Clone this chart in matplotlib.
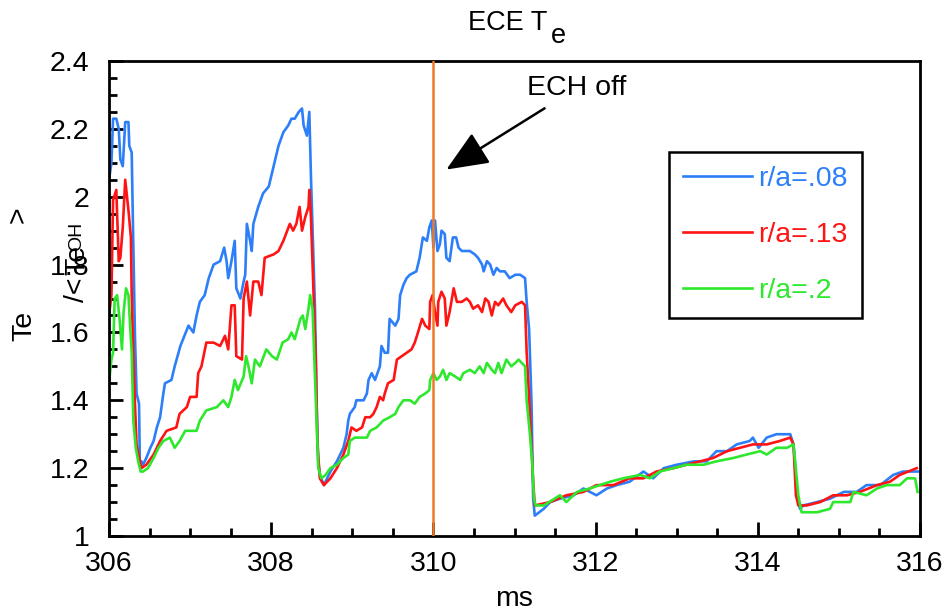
import matplotlib
matplotlib.use("Agg")
import matplotlib.pyplot as plt
from matplotlib.ticker import MultipleLocator

plt.rcParams['font.family'] = ['Liberation Sans', 'DejaVu Sans']

labels = ["r/a=.08", "r/a=.13", "r/a=.2"]
colors = ["#2d7ff9", "#ff1414", "#2ee82e"]

t_b = [306.00, 306.03, 306.05, 306.09, 306.12, 306.14, 306.17, 306.20, 306.24, 306.25, 306.28, 306.29,
       306.32, 306.34, 306.37, 306.38, 306.40, 306.42, 306.46, 306.51, 306.55, 306.59, 306.63, 306.67,
       306.69, 306.77, 306.81, 306.88, 306.98, 307.04, 307.08, 307.12, 307.18, 307.23, 307.29, 307.37,
       307.42, 307.45, 307.47, 307.51, 307.55, 307.57, 307.62, 307.66, 307.68, 307.70, 307.74, 307.76,
       307.78, 307.84, 307.90, 307.97, 308.03, 308.09, 308.15, 308.21, 308.25, 308.29, 308.34, 308.38,
       308.40, 308.44, 308.47, 308.49, 308.54, 308.56, 308.58, 308.60, 308.65,
       308.73, 308.81, 308.89, 308.93, 308.95, 308.97, 309.03, 309.05, 309.14, 309.18, 309.20, 309.24,
       309.28, 309.34, 309.36, 309.40, 309.44, 309.46, 309.53, 309.57, 309.59, 309.63, 309.67, 309.71,
       309.79, 309.83, 309.87, 309.92, 309.95, 309.98, 310.00, 310.02, 310.05, 310.08, 310.10, 310.14,
       310.16, 310.20, 310.24, 310.28, 310.31, 310.35, 310.39, 310.45, 310.51, 310.55, 310.60, 310.62,
       310.66, 310.70, 310.74, 310.78, 310.82, 310.88, 310.94, 311.01, 311.07, 311.13, 311.15, 311.18,
       311.21, 311.23,
       311.25, 311.36, 311.44, 311.56, 311.73, 311.85, 312.01, 312.14, 312.26, 312.42, 312.59, 312.71,
       312.84, 313.00, 313.21, 313.37, 313.49, 313.62, 313.74, 313.90, 313.94, 314.01, 314.11, 314.23,
       314.36, 314.40, 314.44, 314.46, 314.48, 314.52, 314.56, 314.73, 314.89, 315.06, 315.22, 315.34,
       315.51, 315.67, 315.79, 315.98]
te_b = [2.05, 2.10, 2.23, 2.23, 2.20, 2.11, 2.09, 2.22, 2.22, 2.15, 2.13, 1.99,
        1.59, 1.42, 1.39, 1.22, 1.22, 1.21, 1.23, 1.26, 1.28, 1.32, 1.35, 1.42,
        1.45, 1.46, 1.50, 1.56, 1.62, 1.60, 1.65, 1.69, 1.71, 1.76, 1.80, 1.81,
        1.85, 1.81, 1.76, 1.81, 1.87, 1.73, 1.70, 1.75, 1.77, 1.92, 1.87, 1.84,
        1.92, 1.97, 2.01, 2.03, 2.09, 2.15, 2.19, 2.21, 2.23, 2.23, 2.25, 2.26,
        2.21, 2.18, 2.25, 2.06, 1.67, 1.39, 1.22, 1.18, 1.15,
        1.19, 1.22, 1.26, 1.30, 1.34, 1.36, 1.38, 1.40, 1.40, 1.42, 1.46, 1.48,
        1.46, 1.50, 1.56, 1.54, 1.54, 1.64, 1.62, 1.64, 1.71, 1.74, 1.76, 1.77,
        1.78, 1.82, 1.88, 1.87, 1.91, 1.93, 1.85, 1.93, 1.84, 1.86, 1.90, 1.89,
        1.82, 1.81, 1.88, 1.88, 1.85, 1.84, 1.84, 1.84, 1.83, 1.82, 1.80, 1.78,
        1.81, 1.80, 1.77, 1.79, 1.78, 1.78, 1.76, 1.77, 1.77, 1.76, 1.69, 1.61,
        1.39, 1.11,
        1.06, 1.08, 1.10, 1.11, 1.12, 1.14, 1.12, 1.14, 1.15, 1.16, 1.19, 1.17,
        1.20, 1.21, 1.22, 1.22, 1.25, 1.25, 1.27, 1.28, 1.29, 1.26, 1.29, 1.30,
        1.30, 1.30, 1.27, 1.21, 1.12, 1.08, 1.09, 1.10, 1.11, 1.13, 1.13, 1.15,
        1.15, 1.18, 1.19, 1.19]

t_r = [306.00, 306.03, 306.05, 306.09, 306.12, 306.14, 306.17, 306.20, 306.24, 306.27, 306.28, 306.30,
       306.32, 306.34, 306.38, 306.40, 306.46, 306.55, 306.63, 306.71, 306.83, 306.87, 306.96, 307.00,
       307.08, 307.10, 307.14, 307.20, 307.29, 307.37, 307.43, 307.47, 307.51, 307.55, 307.57, 307.64,
       307.66, 307.70, 307.74, 307.78, 307.84, 307.88, 307.92, 308.03, 308.09, 308.15, 308.23, 308.27,
       308.31, 308.35, 308.38, 308.42, 308.46, 308.47, 308.49, 308.52, 308.55, 308.57, 308.60, 308.65,
       308.73, 308.81, 308.89, 308.95, 308.99, 309.05, 309.12, 309.16, 309.22, 309.26, 309.30, 309.34,
       309.38, 309.40, 309.44, 309.51, 309.55, 309.61, 309.67, 309.73, 309.77, 309.81, 309.86, 309.90,
       309.95, 309.96, 309.99, 310.02, 310.05, 310.06, 310.10, 310.14, 310.16, 310.20, 310.25, 310.29,
       310.35, 310.41, 310.45, 310.49, 310.55, 310.60, 310.64, 310.68, 310.72, 310.76, 310.80, 310.86,
       310.90, 310.96, 311.01, 311.09, 311.13, 311.15, 311.18, 311.21, 311.23,
       311.25, 311.44, 311.64, 311.85, 312.01, 312.22, 312.42, 312.59, 312.75, 312.96, 313.12, 313.29,
       313.45, 313.62, 313.78, 313.94, 314.11, 314.27, 314.40, 314.44, 314.47, 314.50, 314.60, 314.77,
       314.93, 315.10, 315.26, 315.47, 315.63, 315.75, 315.96]
te_r = [1.65, 1.71, 1.99, 2.02, 1.81, 1.82, 1.91, 2.05, 1.96, 1.88, 1.71, 1.54,
        1.39, 1.27, 1.22, 1.20, 1.21, 1.24, 1.28, 1.31, 1.32, 1.36, 1.38, 1.41,
        1.41, 1.48, 1.50, 1.57, 1.57, 1.56, 1.59, 1.55, 1.68, 1.68, 1.53, 1.52,
        1.70, 1.75, 1.65, 1.75, 1.75, 1.71, 1.82, 1.83, 1.84, 1.87, 1.92, 1.90,
        1.92, 1.97, 1.90, 1.94, 1.97, 2.02, 1.94, 1.73, 1.52, 1.27, 1.17, 1.15,
        1.17, 1.20, 1.24, 1.28, 1.32, 1.31, 1.32, 1.35, 1.35, 1.36, 1.38, 1.41,
        1.40, 1.42, 1.45, 1.46, 1.52, 1.53, 1.54, 1.55, 1.57, 1.60, 1.64, 1.62,
        1.61, 1.69, 1.71, 1.66, 1.62, 1.69, 1.72, 1.70, 1.62, 1.66, 1.73, 1.69,
        1.69, 1.70, 1.69, 1.67, 1.68, 1.66, 1.70, 1.69, 1.65, 1.69, 1.68, 1.70,
        1.68, 1.66, 1.68, 1.69, 1.68, 1.54, 1.41, 1.26, 1.16,
        1.09, 1.10, 1.12, 1.13, 1.15, 1.15, 1.17, 1.17, 1.19, 1.20, 1.21, 1.22,
        1.23, 1.25, 1.26, 1.27, 1.27, 1.28, 1.29, 1.27, 1.12, 1.09, 1.09, 1.10,
        1.12, 1.12, 1.13, 1.15, 1.16, 1.18, 1.20]

t_g = [306.00, 306.03, 306.05, 306.07, 306.10, 306.13, 306.16, 306.18, 306.21, 306.24, 306.26, 306.28,
       306.30, 306.33, 306.36, 306.39, 306.42, 306.48, 306.55, 306.61, 306.67, 306.75, 306.81, 306.87,
       306.94, 307.08, 307.12, 307.20, 307.33, 307.41, 307.47, 307.51, 307.55, 307.59, 307.66, 307.69,
       307.72, 307.76, 307.80, 307.86, 307.94, 308.01, 308.07, 308.14, 308.21, 308.25, 308.29, 308.36,
       308.39, 308.42, 308.46, 308.48, 308.51, 308.54, 308.56, 308.58, 308.62, 308.67,
       308.73, 308.81, 308.89, 308.95, 308.97, 309.03, 309.12, 309.18, 309.22, 309.30, 309.38, 309.46,
       309.53, 309.57, 309.63, 309.71, 309.77, 309.83, 309.90, 309.95, 309.96, 310.00, 310.04, 310.08,
       310.12, 310.16, 310.20, 310.27, 310.33, 310.37, 310.45, 310.51, 310.57, 310.62, 310.66, 310.72,
       310.76, 310.80, 310.84, 310.90, 310.96, 311.01, 311.05, 311.09, 311.13, 311.15, 311.19, 311.22,
       311.24,
       311.26, 311.36, 311.56, 311.64, 311.77, 311.93, 312.05, 312.18, 312.34, 312.55, 312.67, 312.79,
       312.96, 313.12, 313.33, 313.49, 313.70, 313.86, 314.03, 314.11, 314.23, 314.36, 314.44, 314.46,
       314.50, 314.54, 314.73, 314.89, 314.93, 315.14, 315.18, 315.34, 315.47, 315.59, 315.75, 315.84,
       315.94, 315.97]
te_g = [1.45, 1.52, 1.54, 1.70, 1.71, 1.64, 1.55, 1.66, 1.73, 1.71, 1.62, 1.54,
        1.34, 1.26, 1.22, 1.19, 1.19, 1.20, 1.23, 1.26, 1.28, 1.29, 1.26, 1.28,
        1.31, 1.31, 1.34, 1.37, 1.38, 1.40, 1.38, 1.41, 1.46, 1.43, 1.47, 1.53,
        1.50, 1.45, 1.52, 1.50, 1.55, 1.53, 1.52, 1.57, 1.58, 1.60, 1.58, 1.64,
        1.65, 1.61, 1.67, 1.71, 1.67, 1.47, 1.34, 1.20, 1.17, 1.18,
        1.20, 1.21, 1.23, 1.24, 1.28, 1.29, 1.29, 1.29, 1.31, 1.32, 1.34, 1.35,
        1.36, 1.38, 1.40, 1.40, 1.39, 1.41, 1.42, 1.43, 1.46, 1.48, 1.46, 1.47,
        1.49, 1.46, 1.48, 1.47, 1.46, 1.48, 1.49, 1.48, 1.50, 1.48, 1.51, 1.49,
        1.48, 1.51, 1.48, 1.52, 1.50, 1.51, 1.52, 1.51, 1.50, 1.40, 1.30, 1.21,
        1.11,
        1.09, 1.09, 1.12, 1.10, 1.13, 1.14, 1.15, 1.16, 1.17, 1.18, 1.17, 1.19,
        1.20, 1.21, 1.21, 1.22, 1.23, 1.24, 1.25, 1.24, 1.26, 1.26, 1.27, 1.22,
        1.12, 1.07, 1.07, 1.08, 1.10, 1.10, 1.13, 1.12, 1.14, 1.15, 1.15, 1.17,
        1.17, 1.13]

ech_off_time = 310.0
xticks = [306, 308, 310, 312, 314, 316]
yticks = [1, 1.2, 1.4, 1.6, 1.8, 2, 2.2, 2.4]
yticklabels = ["1", "1.2", "1.4", "1.6", "1.8", "2", "2.2", "2.4"]

FS = 20.5
fig = plt.figure(figsize=(9.45, 6.16), dpi=100)
ax = fig.add_axes([109/945, 80/616, 811/945, 475/616])

series = [(t_b, te_b), (t_r, te_r), (t_g, te_g)]
handles = []
for (t, v), c, lab in zip(series, colors, labels):
    h, = ax.plot(t, v, color=c, lw=1.9, label=lab)
    handles.append(h)

ax.axvline(ech_off_time, color="#f07a28", lw=1.8, zorder=5)

ax.set_xlim(306, 316)
ax.set_ylim(1, 2.4)
ax.set_xticks(xticks)
ax.set_xticklabels([str(v) for v in xticks])
ax.set_yticks(yticks)
ax.set_yticklabels(yticklabels)
ax.xaxis.set_minor_locator(MultipleLocator(0.5))
ax.yaxis.set_minor_locator(MultipleLocator(0.05))
ax.tick_params(which='both', direction='in', width=2, labelsize=FS, top=False, right=False)
ax.tick_params(which='major', length=10)
ax.tick_params(which='minor', length=6)
ax.tick_params(axis='x', which='major', pad=11)
ax.tick_params(axis='y', which='major', pad=14)
for sp in ax.spines.values():
    sp.set_linewidth(2)

# title "ECE Te" with a full-size lowered subscript
fig.text(508/945, 1 - 23/616, "ECE T", fontsize=19.5, ha='center', va='center')
fig.text(558/945, 1 - 36/616, "e", fontsize=19.5, ha='center', va='center')

ax.set_xlabel("ms", fontsize=FS, labelpad=6)

# composite y label
fig.text(24/945, 1 - 326/616, "Te", rotation=90, fontsize=FS, ha='center', va='center')
fig.text(19/945, 1 - 215/616, ">", rotation=90, fontsize=FS, ha='center', va='center')
fig.text(77/945, 1 - 290/616, "/<", rotation=90, fontsize=FS, ha='center', va='center')
fig.text(77/945, 1 - 260/616, "Te", rotation=90, fontsize=FS, ha='center', va='center')
fig.text(77/945, 1 - 236/616, "OH", rotation=90, fontsize=14, ha='center', va='center')

ax.annotate("ECH off", xy=(310.16, 2.08), xytext=(311.77, 2.32), fontsize=FS,
            ha='center', va='center',
            arrowprops=dict(arrowstyle='-|>,head_length=1.3,head_width=0.55', color='black',
                            lw=1.8, mutation_scale=20, shrinkA=6, shrinkB=0))

leg = ax.legend(handles=handles, loc='upper left', bbox_to_anchor=(560/811, (536-152)/475),
                borderaxespad=0, frameon=True, fancybox=False, edgecolor='black', framealpha=1,
                labelcolor='linecolor', fontsize=FS, handlelength=2.4, handletextpad=0.22,
                labelspacing=1.05, borderpad=0.5)
leg.get_frame().set_linewidth(1.8)

fig.savefig("out.png", dpi=100)
